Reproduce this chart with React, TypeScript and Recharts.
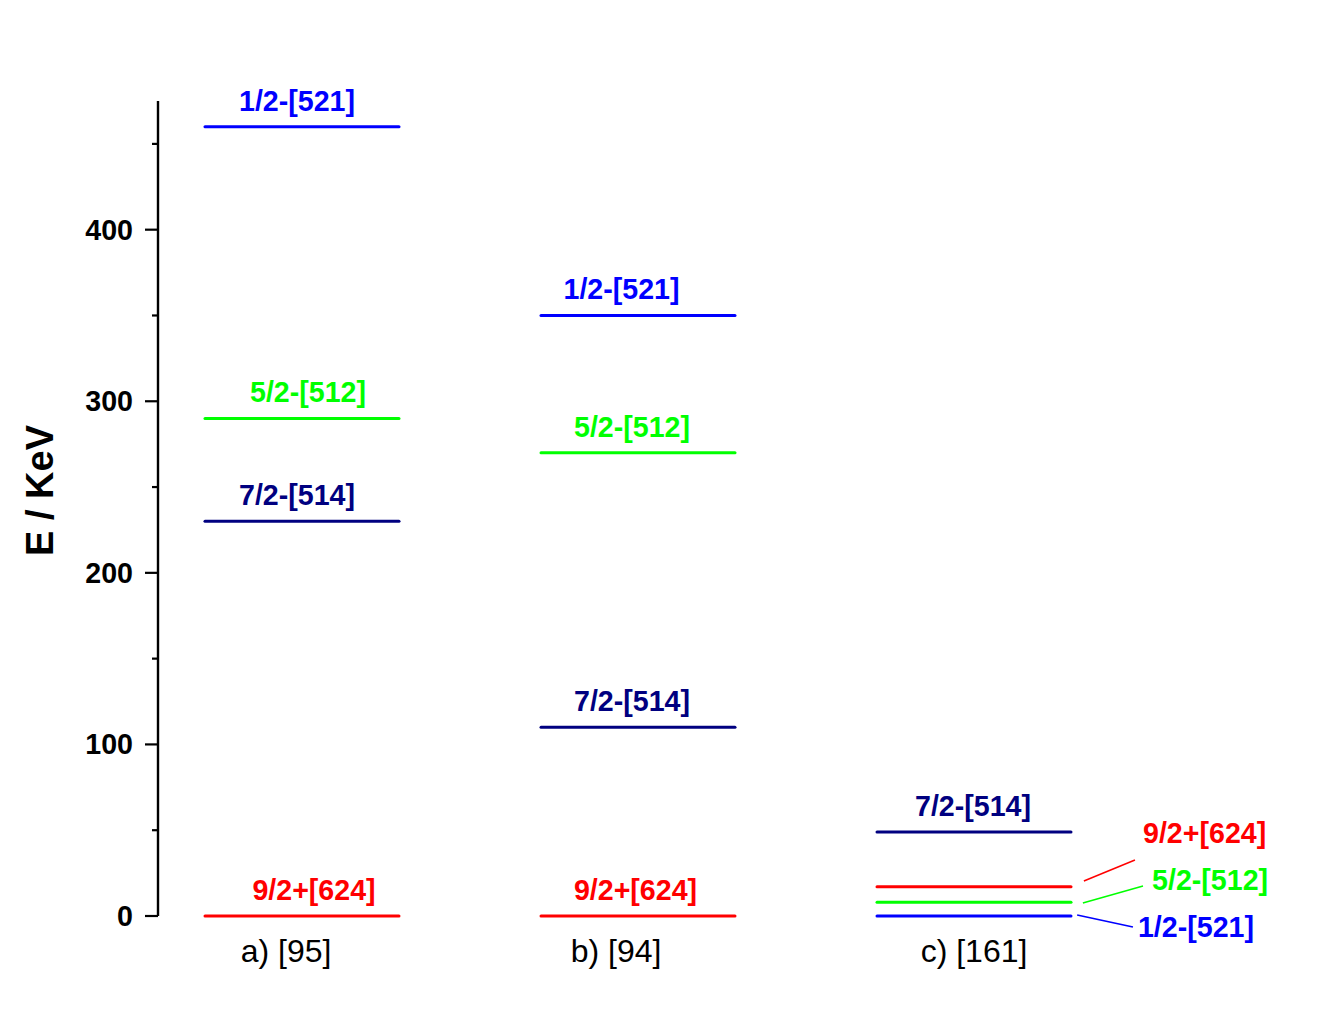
import React from "react";
import { LineChart, Line, XAxis, YAxis, ReferenceDot, ReferenceLine } from "recharts";

// energy levels (keV) per reference, same orbital order in each list
const categories = ["a) [95]", "b) [94]", "c) [161]"];
const orbitals = ["9/2+[624]", "5/2-[512]", "1/2-[521]", "7/2-[514]"];
const energiesA = [0, 290, 460, 230];
const energiesB = [0, 270, 350, 110];
const energiesC = [17, 8, 0, 49];
const yTicks = [0, 50, 100, 150, 200, 250, 300, 350, 400, 450];

const colors: Record<string, string> = {
  "9/2+[624]": "#ff0000",
  "5/2-[512]": "#00ff00",
  "1/2-[521]": "#0000ff",
  "7/2-[514]": "#000080",
};

const HALF = 0.2887; // half length of a level bar, in column units
const FONT = "'Liberation Sans', Arial, sans-serif";
const LBL = 28.6;

// small label nudges (px) so the text sits like in the original
const labelShift: number[][] = [
  [12, 6, -5, -5],
  [-2.5, -6, -16.5, -6],
  [0, 0, 0, -1],
];
const catShift = [-16, -22, 0];

// column c: levels 9/2+, 5/2-, 1/2- are labelled on the right with leader lines
const sideLeaders = [
  { name: "9/2+[624]", from: [3.327, 20.4], to: [3.479, 32.6], text: [3.503, 48.4] },
  { name: "5/2-[512]", from: [3.324, 7.6], to: [3.503, 17.5], text: [3.53, 21] },
  { name: "1/2-[521]", from: [3.307, 0.6], to: [3.473, -6.4], text: [3.488, -6.4] },
];

const levels = [energiesA, energiesB, energiesC].flatMap((energies, ci) =>
  orbitals.map((name, oi) => ({ col: ci + 1, ci, oi, name, e: energies[oi] }))
);

function YTick(props: any) {
  const { x, y, payload } = props;
  const major = payload.value % 100 === 0;
  return (
    <g>
      <line x1={x - (major ? 13 : 6)} x2={x} y1={y} y2={y} stroke="#000" strokeWidth={2.2} />
      {major && (
        <text x={x - 25} y={y} dy={10} textAnchor="end" fontSize={LBL} fontWeight="bold" fontFamily={FONT} fill="#000">
          {payload.value}
        </text>
      )}
    </g>
  );
}

function XTick(props: any) {
  const { x, y, payload } = props;
  const i = payload.value - 1;
  return (
    <text x={x + catShift[i]} y={y + 46} textAnchor="middle" fontSize={32} fontFamily={FONT} fill="#000">
      {categories[i]}
    </text>
  );
}

export default function App() {
  return (
    <div style={{ position: "absolute", left: 0, top: 0, width: 1320, height: 1020, background: "#fff" }}>
      <LineChart width={1320} height={1020} margin={{ top: 101, right: 19.6, left: 0, bottom: 44 }}>
        <XAxis
          type="number"
          dataKey="x"
          domain={[4 / 7, 3.9714]}
          ticks={[1, 2, 3]}
          axisLine={false}
          tickLine={false}
          tickSize={0}
          tickMargin={0}
          height={60}
          tick={<XTick />}
          allowDataOverflow
        />
        <YAxis
          type="number"
          domain={[0, 475]}
          ticks={yTicks}
          interval={0}
          width={158}
          axisLine={{ stroke: "#000", strokeWidth: 2.4 }}
          tickLine={false}
          tickSize={0}
          tickMargin={0}
          tick={<YTick />}
          label={{
            content: (p: any) => {
              const vb = p.viewBox || { x: 0, y: 101, height: 815 };
              const cx = vb.x + 40;
              const cy = vb.y + vb.height / 2 - 18;
              return (
                <text
                  x={cx}
                  y={cy}
                  transform={`rotate(-90 ${cx} ${cy})`}
                  textAnchor="middle"
                  dominantBaseline="central"
                  fontSize={38}
                  fontWeight="bold"
                  fontFamily={FONT}
                  fill="#000"
                >
                  E / KeV
                </text>
              );
            },
          }}
        />
        {levels.map((lv) => (
          <Line
            key={`${lv.ci}-${lv.name}`}
            data={[
              { x: lv.col - HALF, y: lv.e },
              { x: lv.col + HALF, y: lv.e },
            ]}
            dataKey="y"
            stroke={colors[lv.name]}
            strokeWidth={3}
            strokeLinecap="round"
            dot={false}
            activeDot={false}
            isAnimationActive={false}
          />
        ))}
        {levels
          .filter((lv) => lv.ci < 2 || lv.name === "7/2-[514]")
          .map((lv) => (
            <ReferenceDot
              key={`lbl-${lv.ci}-${lv.name}`}
              x={lv.col}
              y={lv.e}
              r={0}
              ifOverflow="visible"
              label={{
                content: (p: any) => (
                  <text
                    x={p.viewBox.x + labelShift[lv.ci][lv.oi]}
                    y={p.viewBox.y - 16}
                    textAnchor="middle"
                    fontSize={LBL}
                    fontWeight="bold"
                    fontFamily={FONT}
                    fill={colors[lv.name]}
                  >
                    {lv.name}
                  </text>
                ),
              }}
            />
          ))}
        {sideLeaders.map((s) => (
          <ReferenceLine
            key={`lead-${s.name}`}
            segment={[
              { x: s.from[0], y: s.from[1] },
              { x: s.to[0], y: s.to[1] },
            ]}
            ifOverflow="visible"
            stroke={colors[s.name]}
            strokeWidth={1.5}
          />
        ))}
        {sideLeaders.map((s) => (
          <ReferenceDot
            key={`side-${s.name}`}
            x={s.text[0]}
            y={s.text[1]}
            r={0}
            ifOverflow="visible"
            label={{
              content: (p: any) => (
                <text
                  x={p.viewBox.x}
                  y={p.viewBox.y}
                  dy={10}
                  textAnchor="start"
                  fontSize={LBL}
                  fontWeight="bold"
                  fontFamily={FONT}
                  fill={colors[s.name]}
                >
                  {s.name}
                </text>
              ),
            }}
          />
        ))}
      </LineChart>
    </div>
  );
}
